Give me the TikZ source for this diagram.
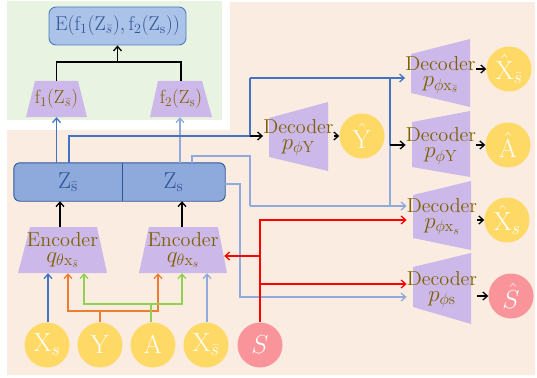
\documentclass[tikz,border=0pt]{standalone}
\usepackage{fix-cm}
\usepackage{graphicx}
\usetikzlibrary{arrows.meta}

\definecolor{peachbg}{HTML}{FBECE1}
\definecolor{greenbg}{HTML}{E9F3E2}
\definecolor{efill}{HTML}{ABC3E9}
\definecolor{eborder}{HTML}{4A7EC0}
\definecolor{zfill}{HTML}{8EA9DB}
\definecolor{zborder}{HTML}{2F5597}
\definecolor{trapfill}{HTML}{CCB9EA}
\definecolor{browntext}{HTML}{7F6000}
\definecolor{yellowc}{HTML}{FFD966}
\definecolor{pinkc}{HTML}{F9949A}
\definecolor{dblue}{HTML}{4472C4}
\definecolor{lblue}{HTML}{8FAADC}
\definecolor{orangec}{HTML}{ED7D31}
\definecolor{greenc}{HTML}{92D050}
\definecolor{redc}{HTML}{FF0000}

\tikzset{
  arr/.style={-{Straight Barb[length=4.5pt,width=8pt]}},
  wire/.style={line width=1.3pt},
  blk/.style={wire, black},
  trapnode/.style={inner sep=0pt, text=browntext, align=center},
  blocktext/.style={font=\fontsize{16}{19}\selectfont},
  circ/.style={circle, inner sep=0pt, minimum size=45pt, text=white,
               font=\fontsize{26}{26}\selectfont},
  yel/.style={circ, fill=yellowc},
  pnk/.style={circ, fill=pinkc},
}

% two-line label of an encoder or decoder block
\newcommand{\blocklabel}[2]{%
  \scalebox{1.26}{$\mathrm{#1}$}\\[-3pt]%
  {\fontsize{23}{17}\selectfont $#2$}}

\begin{document}
\begin{tikzpicture}[x=1pt, y=-1pt]
\useasboundingbox (0,0) rectangle (537,377);

% background panels
\fill[greenbg] (7,1) rectangle (222,120);
\fill[peachbg] (230,2) -- (535,2) -- (535,375) -- (7,375) -- (7,130) -- (230,130) -- cycle;

% trapezoid bodies
\fill[trapfill] (26,117) -- (87,117) -- (78,81) -- (35,81) -- cycle;
\fill[trapfill] (150,117) -- (212,117) -- (202,81) -- (158,81) -- cycle;
\fill[trapfill] (18,273) -- (107,273) -- (97,227) -- (30,227) -- cycle;
\fill[trapfill] (139,273) -- (227,273) -- (218,227) -- (149,227) -- cycle;
\fill[trapfill] (411,54) -- (470,39) -- (470,107) -- (411,93) -- cycle;
\fill[trapfill] (269,118) -- (328,102) -- (328,171) -- (269,157) -- cycle;
\fill[trapfill] (412,122) -- (470,111) -- (470,177) -- (412,167) -- cycle;
\fill[trapfill] (413,195) -- (471,181) -- (471,250) -- (413,238) -- cycle;
\fill[trapfill] (413,267) -- (471,253) -- (471,324) -- (413,307) -- cycle;

% top objective box
\node[draw=eborder, line width=0.9pt, fill=efill, rounded corners=7pt,
      minimum width=137pt, minimum height=38pt, inner sep=0pt,
      text=zborder, font=\fontsize{20}{20}\selectfont] (E) at (117.5,26)
  {$\mathrm{E}(\mathrm{f}_1(\mathrm{Z}_{\bar{s}}),\mathrm{f}_2(\mathrm{Z}_{\mathrm{s}}))$};

% f heads
\node[trapnode, minimum width=61pt, minimum height=36pt,
      font=\fontsize{19}{19}\selectfont] (f1) at (56.5,99)
  {\raisebox{-3pt}{$\mathrm{f}_1(\mathrm{Z}_{\bar{s}})$}};
\node[trapnode, minimum width=62pt, minimum height=36pt,
      font=\fontsize{19}{19}\selectfont] (f2) at (181,99)
  {\raisebox{-3pt}{$\mathrm{f}_2(\mathrm{Z}_{\mathrm{s}})$}};

% latent block
\node[inner sep=0pt, minimum width=108pt, minimum height=38pt] (zsb) at (68,182) {};
\node[inner sep=0pt, minimum width=103pt, minimum height=38pt] (zs) at (173.5,182) {};
\draw[zborder, fill=zfill, line width=0.9pt, rounded corners=6pt]
  (zsb.north west) rectangle (zs.south east);
\draw[zborder, line width=0.9pt] (zsb.north east) -- (zsb.south east);
\node[text=zborder, font=\fontsize{23}{23}\selectfont] at (zsb.center)
  {$\mathrm{Z}_{\bar{\mathrm{s}}}$};
\node[text=zborder, font=\fontsize{23}{23}\selectfont] at (zs.center)
  {$\mathrm{Z}_{\mathrm{s}}$};

% encoders
\node[trapnode, blocktext, minimum width=89pt, minimum height=46pt] (encL) at (62.5,250)
  {\blocklabel{Encoder}{q_{\theta\mathrm{x}_{\bar{s}}}}};
\node[trapnode, blocktext, minimum width=88pt, minimum height=46pt] (encR) at (183,250)
  {\blocklabel{Encoder}{q_{\theta\mathrm{x}_{s}}}};

% decoders
\node[trapnode, blocktext, minimum width=59pt, minimum height=68pt] (dxsb) at (440.5,75)
  {\blocklabel{Decoder}{p_{\phi\mathrm{x}_{\bar{s}}}}};
\node[trapnode, blocktext, minimum width=59pt, minimum height=69pt] (dy) at (298.5,137.5)
  {\blocklabel{Decoder}{p_{\phi\mathrm{Y}}}};
\node[trapnode, blocktext, minimum width=58pt, minimum height=66pt] (da) at (441,146)
  {\blocklabel{Decoder}{p_{\phi\mathrm{Y}}}};
\node[trapnode, blocktext, minimum width=58pt, minimum height=69pt] (dxs) at (442,216.5)
  {\blocklabel{Decoder}{p_{\phi\mathrm{x}_{s}}}};
\node[trapnode, blocktext, minimum width=58pt, minimum height=71pt] (ds) at (442,289.5)
  {\blocklabel{Decoder}{p_{\phi\mathrm{s}}}};

% inputs
\node[yel] (xs) at (47,345) {$\mathrm{X}_{s}$};
\node[yel] (y) at (100,345) {$\mathrm{Y}$};
\node[yel] (a) at (153,345) {$\mathrm{A}$};
\node[yel] (xsb) at (206,345) {$\mathrm{X}_{\bar{s}}$};
\node[pnk] (s) at (260,345) {$S$};

% outputs
\node[yel] (yh) at (362,136) {$\hat{\mathrm{Y}}$};
\node[yel] (xsbh) at (509,69) {$\hat{\mathrm{X}}_{\bar{s}}$};
\node[yel] (ah) at (508,145) {$\hat{\mathrm{A}}$};
\node[yel] (xsh) at (507,220) {$\hat{\mathrm{X}}_{s}$};
\node[pnk] (sh) at (511,296) {$\hat{S}$};

% junction points
\coordinate (ej) at (117.5,62);
\coordinate (oL) at (68,311);  \coordinate (oR) at (158,311);
\coordinate (gL) at (84,304);  \coordinate (gR) at (182,304);
\coordinate (b1) at (250,136); \coordinate (b2) at (250,78);
\coordinate (b3) at (390,78);  \coordinate (b4) at (390,145);
\coordinate (l1) at (192,156); \coordinate (l2) at (250,206);
\coordinate (l3) at (390,206);
\coordinate (m1) at (240,184); \coordinate (m2) at (240,297);
\coordinate (r1) at (260,220); \coordinate (r2) at (260,256);
\coordinate (r3) at (260,284);

% heads to objective
\draw[blk] (f1.north) |- (ej);
\draw[blk] (f2.north) |- (ej);
\draw[blk,arr] (ej) -- (E.south);

% latent to heads
\draw[wire,lblue,arr] ([xshift=-1pt]f2.south |- zs.north) -- ([xshift=-1pt]f2.south);

% light-blue paths from Z_s
\draw[wire,lblue] (zs.north -| l1) -- (l1) -| (l2);
\draw[wire,lblue,arr] (l2) -- (l2 -| dxs.west);
\draw[wire,lblue] (l3) -- (b4);
\draw[wire,lblue,arr] (zs.east |- m1) -- (m1) -- (m2) -- (m2 -| ds.west);

% dark-blue paths from Z_sbar
\draw[wire,dblue,arr] (f1.south |- zsb.north) -- (f1.south);
\draw[wire,dblue] ([xshift=1pt]zsb.north) |- (b1) -- (b2);
\draw[wire,dblue,arr] (b2) -- (b2 -| dxsb.west);
\draw[wire,dblue] (b3) -- (b4);
\draw[blk,arr] (b1) -- (b1 -| dy.west);
\draw[blk,arr] (b4) -- (b4 -| da.west);

% encoders to latent
\draw[blk,arr] ([xshift=-2.5pt]encL.north) -- ([xshift=-2.5pt]encL.north |- zsb.south);
\draw[blk,arr] ([xshift=-1pt]encR.north) -- ([xshift=-1pt]encR.north |- zs.south);

% inputs to encoders
\draw[wire,dblue,arr] ([xshift=1pt]xs.north) -- ([xshift=1pt]xs.north |- encL.south);
\draw[wire,lblue,arr] ([xshift=1pt]xsb.north) -- ([xshift=1pt]xsb.north |- encR.south);
\draw[wire,orangec,arr] (y.north) |- (oL) -- (oL |- encL.south);
\draw[wire,orangec,arr] (y.north) |- (oR) -- (oR |- encR.south);
\draw[wire,greenc,arr] ([xshift=-2pt]a.north) |- (gL) -- (gL |- encL.south);
\draw[wire,greenc,arr] ([xshift=-2pt]a.north) |- (gR) -- (gR |- encR.south);

% sensitive attribute
\draw[wire,redc,arr] (s.north) -- (r1) -- (r1 -| dxs.west);
\draw[wire,redc,arr] (r2) -- ([xshift=-3pt]r2 -| encR.east);
\draw[wire,redc,arr] (r3) -- (r3 -| ds.west);

% decoders to outputs
\draw[blk,arr] (dy.east |- yh.west) -- (yh.west);
\draw[blk,arr] (dxsb.east |- xsbh.west) -- (xsbh.west);
\draw[blk,arr] (da.east |- ah.west) -- (ah.west);
\draw[blk,arr] (dxs.east |- xsh.west) -- (xsh.west);
\draw[blk,arr] (ds.east |- sh.west) -- (sh.west);
\end{tikzpicture}
\end{document}
